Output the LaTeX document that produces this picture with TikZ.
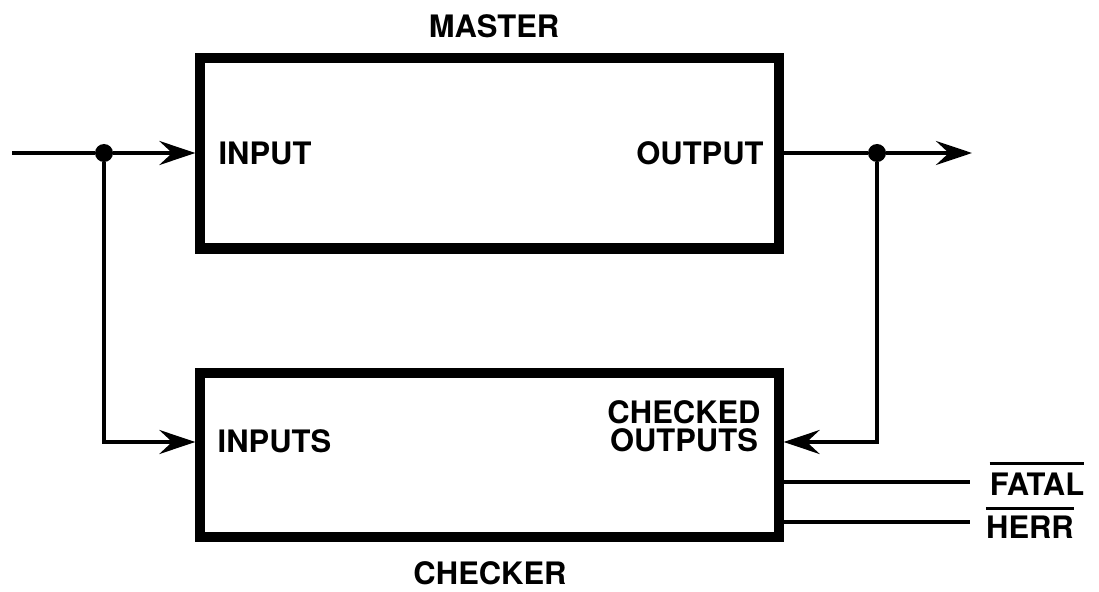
\documentclass[tikz,border=0pt]{standalone}
\usepackage{fontspec}
\setmainfont{TeX Gyre Heros}
\usetikzlibrary{arrows.meta}
\begin{document}
\begin{tikzpicture}[x=0.025cm, y=-0.025cm,
    >={Stealth[length=0.9cm, width=0.6cm, inset=0.32cm]},
    blk/.style={draw, line width=7.2pt, minimum width=14.45cm, inner sep=0pt},
    sig/.style={line width=3pt},
    bar/.style={line width=2pt},
    lbl/.style={inner sep=0pt, font=\fontsize{22}{20}\selectfont\bfseries},
    dot/.style={circle, fill, inner sep=0pt, minimum size=0.45cm}]
  \useasboundingbox (0,0) rectangle (1099,592);

  \node[blk, minimum height=4.76cm] (master) at (489.5,153.25) {};
  \node[blk, minimum height=4.08cm] (checker) at (489.5,455) {};

  \coordinate (src) at (12,153);
  \coordinate (sink) at (972,153);
  \coordinate (inrow) at (104,442);
  \coordinate (outrow) at (877,442);
  \coordinate (fatalend) at (970,482);
  \coordinate (herrend) at (970,522);

  \node[dot] (jin) at (104,153) {};
  \node[dot] (jout) at (877,153) {};

  \draw[sig] (src) -- (jin);
  \draw[sig, ->] (jin) -- (master.west |- jin);
  \draw[sig, ->] (jin) |- (checker.west |- inrow);

  \draw[sig] (master.east |- jout) -- (jout);
  \draw[sig, ->] (jout) -- (sink);
  \draw[sig, ->] (jout) |- (checker.east |- outrow);

  \draw[sig] (checker.east |- fatalend) -- (fatalend);
  \draw[sig] (checker.east |- herrend) -- (herrend);

  \node[lbl] (mastertxt) at (494,26) {MASTER};
  \node[lbl] (input) at (265,153) {INPUT};
  \node[lbl] (output) at (700,153) {OUTPUT};
  \node[lbl] (inputs) at (274.5,441) {INPUTS};
  \node[lbl, align=center] (chkout) at (684,426) {CHECKED\\OUTPUTS};
  \node[lbl] (checkertxt) at (490,573) {CHECKER};
  \node[lbl] (fatal) at (1037,484) {FATAL};
  \node[lbl] (herr) at (1030,527) {HERR};

  \draw[bar] ([yshift=0.22cm]fatal.north west) -- ([yshift=0.22cm]fatal.north east);
  \draw[bar] ([yshift=0.18cm]herr.north west) -- ([yshift=0.18cm]herr.north east);
\end{tikzpicture}
\end{document}
